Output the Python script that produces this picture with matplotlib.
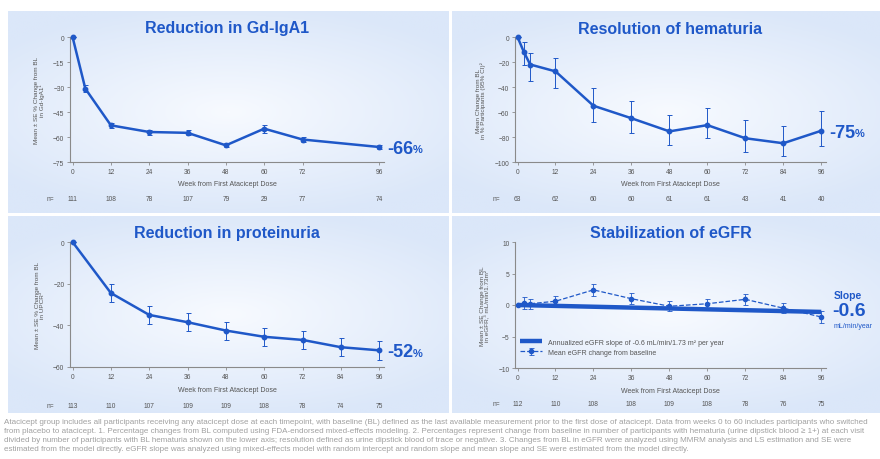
import numpy as np
import matplotlib.pyplot as plt
import matplotlib.transforms as mtransforms
from matplotlib.colors import LinearSegmentedColormap

plt.rcParams['font.family'] = ['Liberation Sans', 'DejaVu Sans']

W, H = 880, 460
BLUE = '#1f58c8'
GRAY = '#555555'

# Gd-IgA1
gd_weeks = [0, 4, 12, 24, 36, 48, 60, 72, 96]
gd_mean = [0, -31, -53, -57, -57.5, -65, -55, -61.5, -66]
gd_se = [0, 2, 1.5, 1.5, 1.5, 1.2, 2.5, 1.5, 1]
gd_ticks = [0, 12, 24, 36, 48, 60, 72, 96]
gd_n = ['111', '108', '78', '107', '79', '29', '77', '74']

# hematuria
hem_weeks = [0, 2, 4, 12, 24, 36, 48, 60, 72, 84, 96]
hem_mean = [0, -12, -22, -27.5, -55, -65, -75.5, -70.5, -81, -85, -75]
hem_lo = [0, -22, -35, -41, -68, -77, -86, -81, -92, -95, -87.5]
hem_hi = [0, -4, -13, -17, -41, -51, -62, -57, -66, -71, -59]
hem_ticks = [0, 12, 24, 36, 48, 60, 72, 84, 96]
hem_n = ['63', '62', '60', '60', '61', '61', '43', '41', '40']

# proteinuria (UPCR)
prot_weeks = [0, 12, 24, 36, 48, 60, 72, 84, 96]
prot_mean = [0, -24.5, -35, -38.5, -42.5, -45.5, -47, -50.5, -52]
prot_se = [0, 4.5, 4.5, 4.3, 4.3, 4.3, 4.3, 4.3, 4.5]
prot_n = ['113', '110', '107', '109', '109', '108', '78', '74', '75']

# eGFR
egfr_weeks = [0, 2, 4, 12, 24, 36, 48, 60, 72, 84, 96]
egfr_mean = [0, 0.3, 0.2, 0.6, 2.4, 1.0, -0.2, 0.2, 0.9, -0.5, -1.9]
egfr_se = [0, 0.9, 0.8, 0.8, 0.9, 0.9, 0.8, 0.8, 0.9, 0.8, 0.9]
slope_weeks = [0, 96]
slope_vals = [0, -1.1]
egfr_n = ['112', '110', '108', '108', '109', '108', '78', '76', '75']

footnote = (
    "Atacicept group includes all participants receiving any atacicept dose at each timepoint, with baseline (BL) defined as the last available measurement prior to the first dose of atacicept. Data from weeks 0 to 60 includes participants who switched\n"
    "from placebo to atacicept. 1. Percentage changes from BL computed using FDA-endorsed mixed-effects modeling. 2. Percentages represent change from baseline in number of participants with hematuria (urine dipstick blood \u2265 1+) at each visit\n"
    "divided by number of participants with BL hematuria shown on the lower axis; resolution defined as urine dipstick blood of trace or negative. 3. Changes from BL in eGFR were analyzed using MMRM analysis and LS estimation and SE were\n"
    "estimated from the model directly. eGFR slope was analyzed using mixed-effects model with random intercept and random slope and mean slope and SE were estimated from the model directly."
)

fig = plt.figure(figsize=(W / 100, H / 100), dpi=100)


def rect(x0, y0, x1, y1):
    return [x0 / W, 1 - y1 / H, (x1 - x0) / W, (y1 - y0) / H]


def fy(py):
    return 1 - py / H


# panel backgrounds
cmap = LinearSegmentedColormap.from_list('bg', ['#f7faff', '#dbe7f9'])
yy, xx = np.mgrid[-1:1:100j, -1:1:200j]
grad = np.clip(np.sqrt(xx ** 2 + (yy * 1.2) ** 2) / 1.3, 0, 1)
for r in [(8, 12, 449, 214), (452, 12, 885, 214), (8, 217, 449, 414), (452, 217, 885, 414)]:
    bg = fig.add_axes(rect(*r), zorder=0)
    bg.imshow(grad, cmap=cmap, aspect='auto', extent=[0, 1, 0, 1])
    bg.set_axis_off()


def setup(ax, xticks, ylim, yticks, title, title_py, ylabel, n_vals, n_x, n_py, xlab_py, n_lab_px):
    ax.set_facecolor('none')
    ax.set_xlim(-0.8, 97.5)
    ax.set_ylim(*ylim)
    ax.set_xticks(xticks)
    ax.set_yticks(yticks)
    for s in ['top', 'right']:
        ax.spines[s].set_visible(False)
    for s in ['left', 'bottom']:
        ax.spines[s].set_color('#8a8a8a')
        ax.spines[s].set_linewidth(0.8)
    ax.tick_params(labelsize=4.8, colors='#8a8a8a', labelcolor=GRAY, length=2, width=0.6, pad=2)
    ax.set_ylabel(ylabel, fontsize=4.6, color=GRAY, linespacing=1.0, labelpad=6)
    cx = (ax.get_position().x0 + ax.get_position().x1) / 2
    fig.text(cx, fy(title_py), title, ha='center', va='center', fontsize=11.5,
             fontweight='bold', color=BLUE)
    fig.text(cx, fy(xlab_py), 'Week from First Atacicept Dose', ha='center', va='center',
             fontsize=5, color=GRAY)
    tr = mtransforms.blended_transform_factory(ax.transData, fig.transFigure)
    for xv, nv in zip(n_x, n_vals):
        ax.text(xv, fy(n_py), nv, transform=tr, ha='center', va='center', fontsize=4.8,
                color=GRAY, clip_on=False)
    fig.text(n_lab_px / W, fy(n_py), 'n=', ha='left', va='center', fontsize=4.8, color=GRAY)


def big_label(ax, x_px, y_px, num):
    t = fig.text(x_px / W, fy(y_px), num, ha='left', va='center', fontsize=13,
                 fontweight='bold', color=BLUE)
    ax.annotate('%', xy=(1, 0.12), xycoords=t, ha='left', va='bottom', fontsize=8,
                fontweight='bold', color=BLUE)


line_kw = dict(color=BLUE, lw=1.8, marker='o', ms=3.2, ecolor=BLUE, elinewidth=0.7,
               capsize=1.8, capthick=0.7, clip_on=False, zorder=3)

# top-left
ax1 = fig.add_axes(rect(70, 38, 384, 163), zorder=2)
ax1.errorbar(gd_weeks, gd_mean, yerr=gd_se, **line_kw)
setup(ax1, gd_ticks, (-75, 0), [0, -15, -30, -45, -60, -75], 'Reduction in Gd-IgA1', 29,
      'Mean \u00b1 SE % Change from BL\nin Gd-IgA1\u00b9', gd_n, gd_ticks, 200, 185, 47)
big_label(ax1, 387, 149, '-66')

# top-right
ax2 = fig.add_axes(rect(515, 38, 826, 163), zorder=2)
hem_err = [np.array(hem_mean) - np.array(hem_lo), np.array(hem_hi) - np.array(hem_mean)]
ax2.errorbar(hem_weeks, hem_mean, yerr=hem_err, **line_kw)
setup(ax2, hem_ticks, (-100, 0), [0, -20, -40, -60, -80, -100], 'Resolution of hematuria', 29,
      'Mean Change from BL\nin % Participants (95% CI)\u00b2', hem_n, hem_ticks, 200, 185, 493)
big_label(ax2, 829, 133, '-75')

# bottom-left
ax3 = fig.add_axes(rect(70, 243, 384, 368), zorder=2)
ax3.errorbar(prot_weeks, prot_mean, yerr=prot_se, **line_kw)
setup(ax3, prot_weeks, (-60, 0), [0, -20, -40, -60], 'Reduction in proteinuria', 234,
      'Mean \u00b1 SE % Change from BL\nin UPCR\u00b3', prot_n, prot_weeks, 407, 391, 47)
big_label(ax3, 387, 353, '-52')

# bottom-right
ax4 = fig.add_axes(rect(515, 243, 826, 369), zorder=2)
ax4.plot(slope_weeks, slope_vals, color=BLUE, lw=3.2, solid_capstyle='butt', zorder=4,
         label='Annualized eGFR slope of -0.6 mL/min/1.73 m\u00b2 per year')
ax4.errorbar(egfr_weeks, egfr_mean, yerr=egfr_se, color=BLUE, lw=0.9, ls='--', marker='o',
             ms=3, ecolor=BLUE, elinewidth=0.6, capsize=1.8, capthick=0.6, zorder=3,
             label='Mean eGFR change from baseline')
setup(ax4, hem_ticks, (-10, 10), [10, 5, 0, -5, -10], 'Stabilization of eGFR', 234,
      'Mean \u00b1 SE Change from BL\nin eGFR,\u00b3 mL/min/1.73m\u00b2', egfr_n, hem_ticks, 405, 392, 493)
ax4.legend(loc='lower left', bbox_to_anchor=(0.0, 0.06), frameon=False, fontsize=5,
           labelcolor=GRAY, handlelength=3.2, handletextpad=0.8, borderaxespad=0.3,
           labelspacing=0.4)
fig.text(834 / W, fy(296), 'Slope', ha='left', va='center', fontsize=7.5, fontweight='bold', color=BLUE)
fig.text(832 / W, fy(312), '-0.6', ha='left', va='center', fontsize=14, fontweight='bold', color=BLUE)
fig.text(834 / W, fy(327), 'mL/min/year', ha='left', va='center', fontsize=5, color=BLUE)

fig.text(4 / W, fy(419), footnote, ha='left', va='top', fontsize=5.8, color='#a0a0a0',
         linespacing=1.4)

fig.savefig('out.png', dpi=100)
